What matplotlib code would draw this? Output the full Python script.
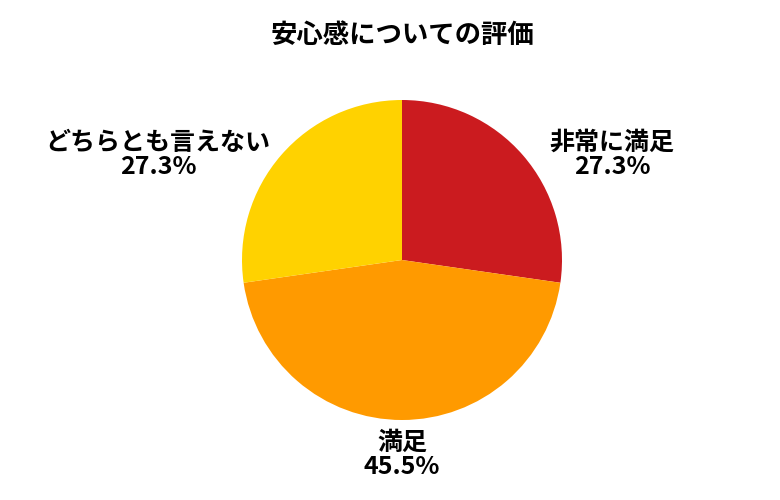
import matplotlib
matplotlib.use("Agg")
import matplotlib.pyplot as plt

plt.rcParams['font.family'] = ['Noto Sans CJK JP', 'DejaVu Sans']

categories = ["非常に満足", "満足", "どちらとも言えない"]
values = [3, 5, 3]
pct_labels = ["27.3%", "45.5%", "27.3%"]
colors = ["#cb1b1f", "#ff9a00", "#ffd200"]

W, H = 780, 500
fig = plt.figure(figsize=(W/100, H/100), dpi=100)
cx, cy, r = 402, 260, 160
ax = fig.add_axes([(cx-r)/W, (H-cy-r)/H, 2*r/W, 2*r/H])
ax.pie(values, colors=colors, startangle=90, counterclock=False,
       wedgeprops=dict(linewidth=0))
ax.set_aspect('equal')
ax.set_xlim(-1, 1); ax.set_ylim(-1, 1)

fig.text(cx/W, 1-35/H, "安心感についての評価", ha='center', va='center',
         fontsize=19, fontweight='bold')
pos = [(612, 155), (402, 455), (158, 155)]
for (x, y), c, p in zip(pos, categories, pct_labels):
    fig.text(x/W, 1-y/H, c + "\n" + p, ha='center', va='center',
             fontsize=18, fontweight='bold', linespacing=1.05)

fig.savefig("out.png", dpi=100)
